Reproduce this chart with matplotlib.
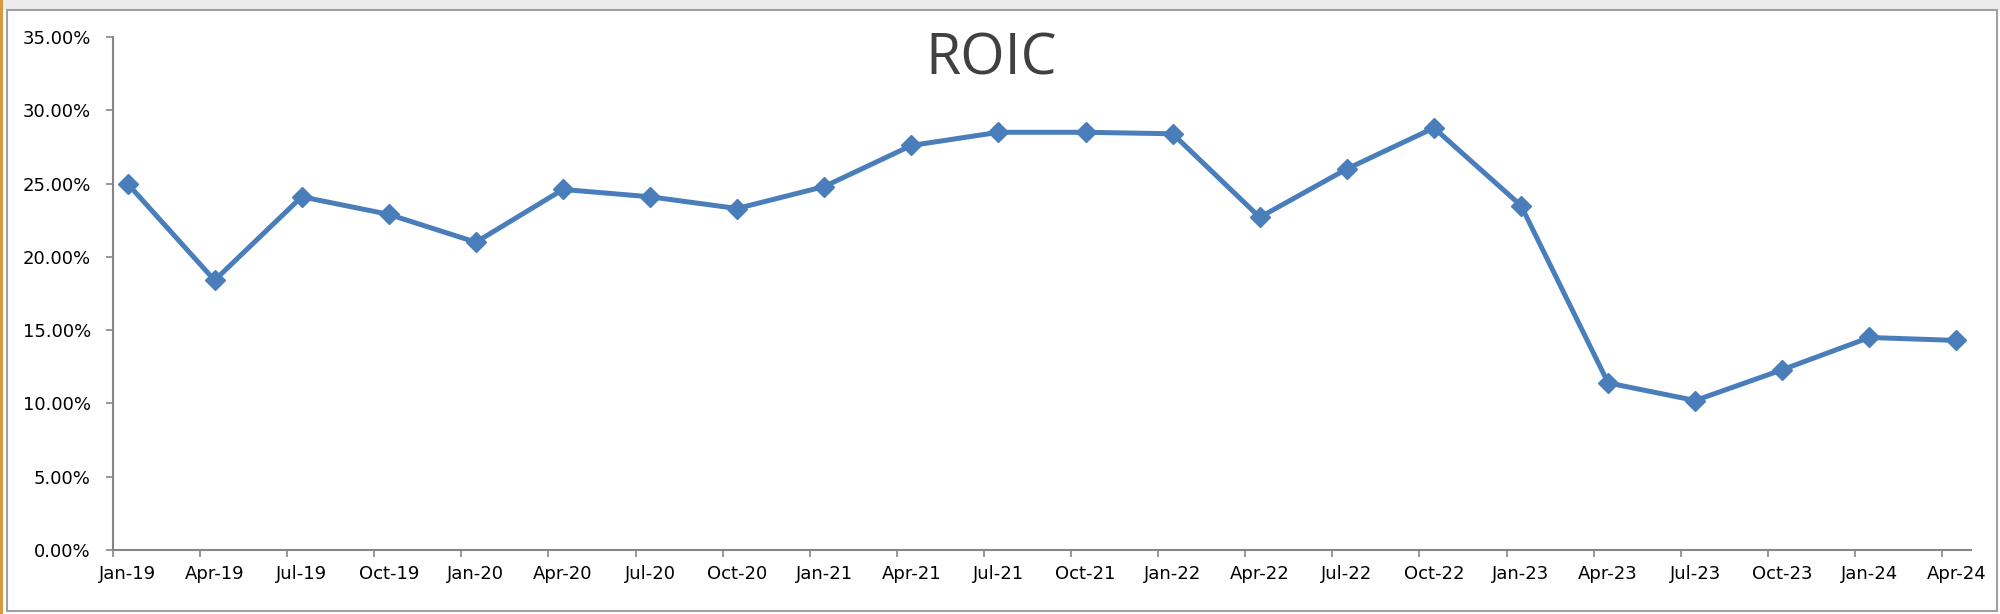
import matplotlib
matplotlib.use("Agg")
import matplotlib.pyplot as plt
import matplotlib.patches as mpatches
import numpy as np

# ── Data ───────────────────────────────────────────────────────────────────
quarters = ["Jan-19", "Apr-19", "Jul-19", "Oct-19", "Jan-20", "Apr-20", "Jul-20", "Oct-20",
            "Jan-21", "Apr-21", "Jul-21", "Oct-21", "Jan-22", "Apr-22", "Jul-22", "Oct-22",
            "Jan-23", "Apr-23", "Jul-23", "Oct-23", "Jan-24", "Apr-24"]
roic = [25.0, 18.4, 24.1, 22.9, 21.0, 24.6, 24.1, 23.3,
        24.8, 27.6, 28.5, 28.5, 28.4, 22.7, 26.0, 28.8,
        23.5, 11.4, 10.2, 12.3, 14.5, 14.3]
y_ticks = [0, 5, 10, 15, 20, 25, 30, 35]

LINE = "#4a7ebb"
AXIS = "#868686"
TEXT = "#000000"

# date axis in months: ticks on month boundaries, points mid-month
month_idx = np.arange(len(quarters)) * 3
xpos = month_idx + 0.5

fig = plt.figure(figsize=(20, 6.14), dpi=100)
fig.patch.set_facecolor("white")
ax = fig.add_axes([0.0565, 0.1042, 0.929, 0.8355])

ax.plot(xpos, roic, color=LINE, linewidth=3.6, marker="D", markersize=10,
        markeredgecolor=LINE, markerfacecolor=LINE, zorder=3, clip_on=False)

ax.set_xlim(0, len(quarters) * 3 - 2)
ax.set_ylim(0, 35)

ax.set_xticks(month_idx)
ax.set_xticklabels([])
ax.set_xticks(xpos, minor=True)
ax.set_xticklabels(quarters, minor=True, fontsize=13, color=TEXT)
ax.tick_params(axis="x", which="minor", length=0, pad=11)
ax.tick_params(axis="x", which="major", length=5, width=1.2, color=AXIS, direction="out")

ax.set_yticks(y_ticks)
ax.set_yticklabels([f"{v:.2f}%" for v in y_ticks], fontsize=13, color=TEXT)
ax.tick_params(axis="y", length=5, width=1.2, color=AXIS, direction="out", pad=11)

for side in ("top", "right"):
    ax.spines[side].set_visible(False)
for side in ("left", "bottom"):
    ax.spines[side].set_color(AXIS)
    ax.spines[side].set_linewidth(1.5)

fig.text(0.4955, 0.902, "ROIC", ha="center", va="center",
         fontsize=41, color="#404040", family="Open Sans")

# chart frame and spreadsheet surroundings
fig.patches.append(mpatches.Rectangle((0, 0.984), 1, 0.016, transform=fig.transFigure,
                                      facecolor="#ececec", edgecolor="none", zorder=0))
fig.patches.append(mpatches.Rectangle((0.0035, 0.005), 0.995, 0.979, transform=fig.transFigure,
                                      facecolor="none", edgecolor="#a0a0a0", linewidth=1.5))
fig.patches.append(mpatches.Rectangle((0, 0), 0.0015, 1, transform=fig.transFigure,
                                      facecolor="#d89a3c", edgecolor="none"))

fig.savefig("out.png", dpi=100, facecolor="white")
